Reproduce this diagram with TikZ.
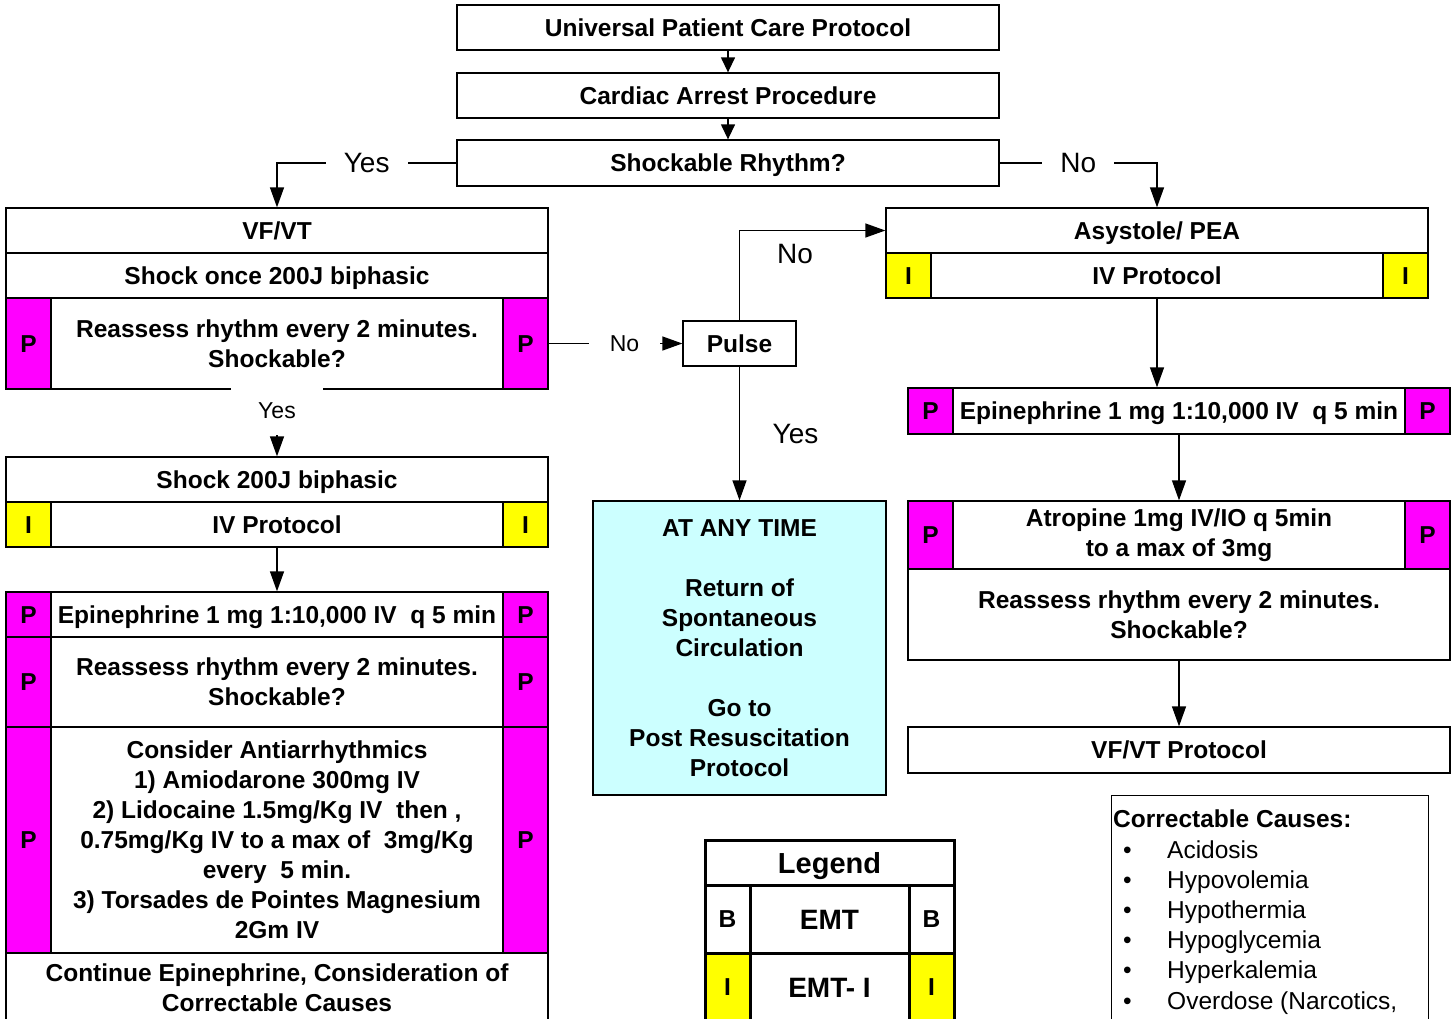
\documentclass[tikz,border=0pt]{standalone}
\usepackage{fontspec}
\setmainfont{Liberation Sans}
\usetikzlibrary{arrows.meta}
\definecolor{rosc}{HTML}{CCFFFF}
\definecolor{pmag}{RGB}{255,0,255}
\definecolor{iyel}{RGB}{255,255,0}

\begin{document}
\begin{tikzpicture}[x=1pt, y=-1pt,
    box/.style={draw, line width=1.3pt, fill=white, align=center, inner sep=0pt,
      font=\fontsize{24.5}{30}\selectfont\bfseries, minimum width=542, minimum height=45,
      text height=17.5pt, text depth=0pt},
    ml/.style={text height=, text depth=},
    mid/.style={box, minimum width=452},
    pc/.style={box, fill=pmag, minimum width=45},
    ic/.style={box, fill=iyel, minimum width=45},
    leg/.style={box, line width=3pt, minimum width=45, minimum height=68},
    lbl/.style={fill=white, inner xsep=18pt, inner ysep=2pt, font=\fontsize{28}{34}\selectfont},
    lbls/.style={fill=white, inner ysep=2pt, font=\fontsize{23}{28}\selectfont},
    arr/.style={line width=1.3pt, -{Triangle[length=20pt, width=14pt]}},
    arrs/.style={arr, -{Triangle[length=15pt, width=14pt]}}]

    \useasboundingbox (0,0) rectangle (1455,1018);
    \clip (0,0) rectangle (1455,1018);

    % top of the chart
    \node[box] (u1) at (728,27.5) {Universal Patient Care Protocol};
    \node[box] (u2) at (728,95.5) {Cardiac Arrest Procedure};
    \node[box, minimum height=46] (u3) at (728,163) {Shockable Rhythm?};

    % VF/VT
    \node[box] (v1) at (277,230.5) {VF/VT};
    \node[box] (v2) at (277,275.5) {Shock once 200J biphasic};
    \node[mid, ml, minimum height=91] (v3) at (277,343.5) {Reassess rhythm every 2 minutes.\\Shockable?};
    \foreach \x/\s in {28.5/l, 525.5/r}
      \node[pc, minimum height=91] (v3\s) at (\x,343.5) {P};

    \node[box] (v4) at (277,479.5) {Shock 200J biphasic};
    \node[mid] (v5) at (277,524.5) {IV Protocol};
    \foreach \x/\s in {28.5/l, 525.5/r}
      \node[ic] (v5\s) at (\x,524.5) {I};

    \node[mid] (v6) at (277,614.5) {Epinephrine 1 mg 1:10,000 IV\ \ q 5 min};
    \node[mid, ml, minimum height=90] (v7) at (277,682) {Reassess rhythm every 2 minutes.\\Shockable?};
    \node[mid, ml, minimum height=226] (v8) at (277,840) {Consider Antiarrhythmics\\1) Amiodarone 300mg IV\\2) Lidocaine 1.5mg/Kg IV\ \ then ,\\0.75mg/Kg IV to a max of\ \ 3mg/Kg\\every\ \ 5 min.\\3) Torsades de Pointes Magnesium\\2Gm IV};
    \foreach \x/\s in {28.5/l, 525.5/r} {
      \node[pc] (v6\s) at (\x,614.5) {P};
      \node[pc, minimum height=90] (v7\s) at (\x,682) {P};
      \node[pc, minimum height=226] (v8\s) at (\x,840) {P};
    }
    \node[box, ml, minimum height=70] (v9) at (277,988) {Continue Epinephrine, Consideration of\\Correctable Causes};

    % pulse check and ROSC
    \node[box, minimum width=113] (pl) at (739.5,343.5) {Pulse};
    \node[box, ml, fill=rosc, minimum width=293, minimum height=294] (ro) at (739.5,648)
      {AT ANY TIME\\[30pt]Return of\\Spontaneous\\Circulation\\[30pt]Go to\\Post Resuscitation\\Protocol};

    % asystole / PEA
    \node[box] (a1) at (1157,230.5) {Asystole/ PEA};
    \node[mid] (a2) at (1157,275.5) {IV Protocol};
    \foreach \x/\s in {908.5/l, 1405.5/r}
      \node[ic] (a2\s) at (\x,275.5) {I};
    \node[mid, minimum height=46] (a3) at (1179,411) {Epinephrine 1 mg 1:10,000 IV\ \ q 5 min};
    \node[mid, ml, minimum height=68] (a4) at (1179,535) {Atropine 1mg IV/IO q 5min\\to a max of 3mg};
    \foreach \x/\s in {930.5/l, 1427.5/r} {
      \node[pc, minimum height=46] (a3\s) at (\x,411) {P};
      \node[pc, minimum height=68] (a4\s) at (\x,535) {P};
    }
    \node[box, ml, minimum height=91] (a5) at (1179,614.5) {Reassess rhythm every 2 minutes.\\Shockable?};
    \node[box, minimum height=46] (a6) at (1179,750) {VF/VT Protocol};

    % legend
    \node[leg, minimum width=249, minimum height=45, font=\fontsize{29}{34}\selectfont\bfseries, text height=21pt] (g0) at (829.5,862.5) {Legend};
    \node[leg] (g1l) at (727.5,919) {B};
    \node[leg, minimum width=159, font=\fontsize{28}{34}\selectfont\bfseries, text height=20pt] (g1) at (829.5,919) {EMT};
    \node[leg] (g1r) at (931.5,919) {B};
    \node[leg, fill=iyel] (g2l) at (727.5,987) {I};
    \node[leg, minimum width=159, font=\fontsize{28}{34}\selectfont\bfseries, text height=20pt] (g2) at (829.5,987) {EMT- I};
    \node[leg, fill=iyel] (g2r) at (931.5,987) {I};

    % correctable causes
    \node[draw, line width=1.3pt, minimum width=317, minimum height=260, anchor=north west] (cc) at (1111,795) {};
    \node[anchor=north west, align=left, inner sep=0pt, font=\fontsize{24.5}{30.2}\selectfont] (cct) at (1113,810)
      {\textbf{Correctable Causes:}\\
       \hspace*{10pt}\makebox[44pt][l]{\textbullet}Acidosis\\
       \hspace*{10pt}\makebox[44pt][l]{\textbullet}Hypovolemia\\
       \hspace*{10pt}\makebox[44pt][l]{\textbullet}Hypothermia\\
       \hspace*{10pt}\makebox[44pt][l]{\textbullet}Hypoglycemia\\
       \hspace*{10pt}\makebox[44pt][l]{\textbullet}Hyperkalemia\\
       \hspace*{10pt}\makebox[44pt][l]{\textbullet}Overdose (Narcotics,};

    % connectors
    \draw[arrs] (u1) -- (u2);
    \draw[arrs] (u2) -- (u3);
    \draw[arr] (u3.west) -| node[lbl, pos=0.25] {Yes} (v1.north);
    \draw[arr] (u3.east) -| node[lbl, pos=0.25] {No} (a1.north);
    \draw[arr] (v3r.east) -- node[lbls, pos=0.567, inner xsep=21pt] {No} (pl.west);
    \draw[arr] (v3) -- node[lbls, pos=0.32, minimum width=92, minimum height=48] {Yes} (v4);
    \draw[arr] (pl.north) |- node[lbl, fill=none, pos=0.69, yshift=-23pt] {No} (a1.west);
    \draw[arr] (pl) -- node[lbl, fill=none, xshift=56pt] {Yes} (ro);
    \draw[arr] (v5) -- (v6);
    \draw[arr] (a2.south) -- (a2.south |- a3.north);
    \draw[arr] (a3) -- (a4);
    \draw[arr] (a5) -- (a6);
  \end{tikzpicture}
\end{document}
